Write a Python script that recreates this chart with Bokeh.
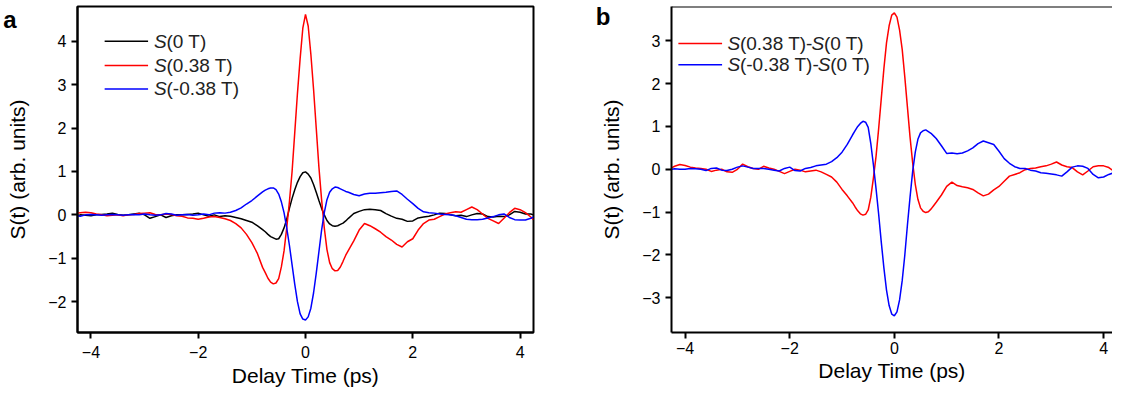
from bokeh.plotting import figure
from bokeh.layouts import row
from bokeh.models import Range1d, Label, Arrow, Span, FixedTicker, LinearAxis
from bokeh.embed import file_html
from bokeh.resources import INLINE

# ---------------- data ----------------
t = [-4.25, -4.2, -4.1, -4.0, -3.9, -3.8, -3.7, -3.6, -3.5, -3.4, -3.3, -3.2, -3.1, -3.0,
     -2.9, -2.8, -2.7, -2.6, -2.5, -2.4, -2.3, -2.2, -2.1, -2.0, -1.9, -1.8, -1.7, -1.6,
     -1.5, -1.4, -1.3, -1.2, -1.1, -1.0, -0.9, -0.8,
     -0.75, -0.7, -0.65, -0.6, -0.55, -0.5, -0.45, -0.4, -0.35, -0.3, -0.25, -0.2, -0.15, -0.1, -0.05,
     0.0, 0.05, 0.1, 0.15, 0.2, 0.25, 0.3, 0.35, 0.4, 0.45, 0.5, 0.55, 0.6, 0.65, 0.7, 0.75,
     0.8, 0.9, 1.0, 1.1, 1.2, 1.3, 1.4, 1.5, 1.6, 1.7, 1.8, 1.9, 2.0, 2.1, 2.2, 2.3, 2.4,
     2.5, 2.6, 2.7, 2.8, 2.9, 3.0, 3.1, 3.2, 3.3, 3.4, 3.5, 3.6, 3.7, 3.8, 3.9, 4.0, 4.1, 4.2, 4.25]

# panel a: S(0 T)
s_0T = [-0.02,
        0.00, -0.01, -0.02, 0.00, 0.01, 0.02, 0.04, 0.01, -0.01, 0.00, 0.02, 0.04, 0.00, -0.08,
        -0.04, 0.00, -0.06, -0.02, 0.00, 0.00, 0.01, 0.02, 0.04, 0.00, -0.03, 0.00, -0.04, -0.02,
        -0.03, -0.06, -0.09, -0.13, -0.17, -0.25, -0.34,
        -0.39, -0.45, -0.50, -0.53, -0.56, -0.55, -0.45, -0.30, -0.10, 0.15, 0.38, 0.58, 0.75, 0.88, 0.97,
        0.99, 0.94, 0.85, 0.70, 0.52, 0.33, 0.15, 0.00, -0.13, -0.21, -0.25, -0.26, -0.25, -0.22, -0.19, -0.14,
        -0.08, 0.03, 0.08, 0.12, 0.13, 0.12, 0.10, 0.03, -0.03, -0.08, -0.10, -0.15, -0.14, -0.07, -0.05,
        -0.03, 0.00, 0.04, 0.03, 0.00, -0.02, -0.01, -0.04, 0.00, 0.03, 0.02, -0.04, -0.05, -0.03, -0.04,
        0.00, 0.08, 0.06, 0.02, 0.02, 0.00]

# panel a: S(0.38 T)
s_p038 = [0.04,
          0.05, 0.06, 0.05, 0.02, 0.00, -0.02, -0.01, 0.00, -0.02, 0.00, 0.01, 0.03, 0.04, 0.05,
          0.01, 0.00, 0.02, 0.01, -0.02, -0.03, -0.07, -0.08, -0.10, -0.08, -0.05, -0.04, -0.06, -0.09,
          -0.13, -0.20, -0.30, -0.45, -0.64, -0.88, -1.21,
          -1.33, -1.46, -1.55, -1.59, -1.57, -1.47, -1.20, -0.83, -0.30, 0.30, 1.00, 1.90, 2.80, 3.60, 4.30,
          4.62, 4.35, 3.70, 2.90, 2.00, 1.10, 0.35, -0.30, -0.80, -1.10, -1.24, -1.29, -1.28, -1.20, -1.07, -0.93,
          -0.82, -0.60, -0.35, -0.20, -0.25, -0.32, -0.40, -0.50, -0.58, -0.68, -0.74, -0.62, -0.55, -0.35, -0.20,
          -0.12, -0.10, -0.04, 0.02, 0.05, 0.07, 0.06, 0.12, 0.18, 0.12, 0.02, -0.08, -0.14, -0.20, -0.08,
          0.05, 0.15, 0.12, 0.05, -0.05, -0.11]

# panel a: S(-0.38 T)
s_m038 = [-0.02,
          -0.03, 0.00, 0.01, 0.00, -0.01, 0.00, 0.01, 0.00, -0.01, 0.00, 0.01, 0.00, 0.02, 0.00,
          -0.01, 0.00, 0.03, 0.02, -0.01, 0.00, 0.01, -0.01, 0.00, 0.02, 0.00, 0.04, 0.05, 0.04,
          0.06, 0.10, 0.16, 0.25, 0.33, 0.43, 0.53,
          0.57, 0.60, 0.62, 0.62, 0.58, 0.48, 0.30, 0.05, -0.30, -0.70, -1.15, -1.60, -2.00, -2.28, -2.40,
          -2.42, -2.35, -2.15, -1.80, -1.35, -0.85, -0.35, 0.05, 0.35, 0.52, 0.60, 0.64, 0.63, 0.60, 0.57, 0.54,
          0.52, 0.47, 0.44, 0.48, 0.50, 0.50, 0.51, 0.52, 0.54, 0.55, 0.47, 0.36, 0.26, 0.15, 0.07,
          0.05, 0.04, 0.02, 0.01, 0.00, -0.02, -0.06, -0.10, -0.11, -0.11, -0.10, -0.07, -0.04, 0.00, 0.02,
          -0.06, -0.11, -0.12, -0.12, -0.08, -0.05]

# panel b: S(0.38 T)-S(0 T)
d_p038 = [0.04,
          0.07, 0.11, 0.09, 0.05, 0.03, 0.02, 0.00, -0.05, -0.02, 0.00, -0.06, -0.07, 0.00, 0.12,
          0.06, 0.02, 0.00, 0.07, 0.03, 0.00, -0.05, -0.10, -0.05, 0.00, -0.02, -0.06, -0.04, -0.02,
          -0.06, -0.12, -0.18, -0.30, -0.47, -0.62, -0.78,
          -0.88, -0.97, -1.04, -1.07, -1.05, -0.95, -0.65, -0.20, 0.30, 0.95, 1.65, 2.35, 2.95, 3.35, 3.60,
          3.65, 3.55, 3.25, 2.80, 2.15, 1.45, 0.75, 0.15, -0.35, -0.70, -0.90, -0.98, -1.01, -0.99, -0.93, -0.85,
          -0.77, -0.60, -0.40, -0.30, -0.38, -0.41, -0.43, -0.47, -0.55, -0.62, -0.58, -0.48, -0.40, -0.28, -0.16,
          -0.12, -0.08, -0.01, 0.02, 0.03, 0.06, 0.08, 0.12, 0.17, 0.10, 0.06, 0.04, -0.06, -0.13, -0.04,
          0.06, 0.08, 0.08, 0.04, -0.05, -0.08]

# panel b: S(-0.38 T)-S(0 T)
d_m038 = [0.00,
          0.01, 0.00, 0.00, 0.02, 0.01, 0.00, -0.03, 0.02, 0.03, -0.02, -0.03, 0.00, 0.05, 0.08,
          0.05, 0.02, 0.02, 0.02, 0.00, -0.02, -0.04, 0.02, 0.05, -0.03, -0.04, 0.02, 0.04, 0.08,
          0.10, 0.12, 0.18, 0.27, 0.40, 0.58, 0.80,
          0.90, 1.00, 1.07, 1.12, 1.10, 0.98, 0.60, 0.10, -0.45, -1.05, -1.70, -2.30, -2.82, -3.18, -3.38,
          -3.42, -3.33, -3.05, -2.60, -2.00, -1.30, -0.65, -0.05, 0.40, 0.70, 0.85, 0.90, 0.92, 0.88, 0.84, 0.78,
          0.72, 0.55, 0.37, 0.38, 0.36, 0.38, 0.43, 0.50, 0.60, 0.66, 0.62, 0.58, 0.42, 0.25, 0.14,
          0.06, 0.02, 0.02, -0.02, -0.04, -0.08, -0.09, -0.11, -0.13, -0.16, -0.06, 0.05, 0.08, 0.07, 0.02,
          -0.12, -0.20, -0.18, -0.12, -0.08, -0.06]

x_ticks = [-4, -2, 0, 2, 4]
y_ticks_a = [-2, -1, 0, 1, 2, 3, 4]
y_ticks_b = [-3, -2, -1, 0, 1, 2, 3]

x_label = "Delay Time (ps)"
y_label = "S(t) (arb. units)"

# ---------------- styling / layout ----------------
FONT = "Liberation Sans"
RED = "#ff0000"
BLUE = "#0000ff"
BLACK = "#000000"
LEG_SIZE = 19
H = 393  # 8px page margin top and bottom -> 409 window
# Arial advance widths (em) to place mixed-style legend runs
EM = {"S": 0.667, "(": 0.333, ")": 0.333, "0": 0.556, "3": 0.556, "8": 0.556, ".": 0.278,
      " ": 0.278, "T": 0.611, "-": 0.333}


def text_w(s, size):
    return sum(EM.get(c, 0.556) for c in s) * size


def make_panel(width, height, mb, xr, yr, yticks, outline, xstand, xlstand):
    p = figure(width=width, height=height, x_range=Range1d(*xr), y_range=Range1d(*yr),
               output_backend="svg", toolbar_location=None, tools="",
               min_border_left=mb[0], min_border_right=mb[1],
               min_border_top=mb[2], min_border_bottom=mb[3])
    p.grid.visible = False
    p.background_fill_color = "white"
    p.border_fill_color = "white"
    if outline:
        p.outline_line_color = BLACK
        p.outline_line_width = 2
        p.outline_line_alpha = 1
    else:
        p.outline_line_color = None
    for ax in (p.xaxis[0], p.yaxis[0]):
        ax.axis_line_color = BLACK
        ax.axis_line_width = 2
        ax.major_tick_line_color = BLACK
        ax.major_tick_line_width = 2
        ax.major_tick_out = 6
        ax.major_tick_in = 0
        ax.minor_tick_line_color = None
        ax.major_label_text_font = FONT
        ax.major_label_text_font_size = "16px"
        ax.major_label_text_color = BLACK
        ax.axis_label_text_font = FONT
        ax.axis_label_text_font_size = "21px"
        ax.axis_label_text_font_style = "normal"
        ax.axis_label_text_color = BLACK
    p.xaxis[0].ticker = FixedTicker(ticks=x_ticks)
    p.yaxis[0].ticker = FixedTicker(ticks=yticks)
    p.xaxis[0].axis_label = x_label
    p.yaxis[0].axis_label = y_label
    p.xaxis[0].major_label_standoff = xstand
    p.xaxis[0].axis_label_standoff = xlstand
    p.yaxis[0].major_label_standoff = 5
    p.yaxis[0].axis_label_standoff = 16
    return p


class Mapper:
    """page pixel -> data coordinate for annotation placement"""
    def __init__(self, left, top, fw, fh, xr, yr):
        self.left, self.top, self.fw, self.fh, self.xr, self.yr = left, top, fw, fh, xr, yr

    def x(self, px):
        return self.xr[0] + (px - self.left) / self.fw * (self.xr[1] - self.xr[0])

    def y(self, py):
        return self.yr[1] - (py - self.top) / self.fh * (self.yr[1] - self.yr[0])


def panel_letter(p, m, letter, py):
    # bold panel letter drawn as the single label of an outer, line-less left axis
    pos = round(m.y(py), 3)
    ax = LinearAxis(ticker=FixedTicker(ticks=[pos]), major_label_overrides={pos: letter},
                    axis_line_color=None, major_tick_line_color=None, minor_tick_line_color=None,
                    major_tick_out=0, major_tick_in=0, major_label_standoff=-13,
                    major_label_text_font=FONT, major_label_text_font_size="24px",
                    major_label_text_font_style="bold", major_label_text_color=BLACK)
    p.add_layout(ax, "left")


def legend_row(p, m, x0, x1, xt, yrow, color, runs):
    p.add_layout(Arrow(end=None, x_start=m.x(x0), y_start=m.y(yrow), x_end=m.x(x1), y_end=m.y(yrow),
                       line_color=color, line_width=1.5))
    x = xt
    for txt, style in runs:
        p.add_layout(Label(x=m.x(x), y=m.y(yrow), text=txt, text_font=FONT,
                           text_font_size=f"{LEG_SIZE}px", text_font_style=style,
                           text_color="#222222", text_align="left", text_baseline="middle"))
        x += text_w(txt, LEG_SIZE)


# ---- panel a ----  (page x 8..600)
xr_a = (-4.25, 4.25)
yr_a = (-2.71, 4.80)
pa = make_panel(592, H, (71, 59, 1, H - 1 - 331), xr_a, yr_a, y_ticks_a, True, 7, 3)
ma = Mapper(79, 9, 462, 331, xr_a, yr_a)
pa.line(t, s_0T, line_color=BLACK, line_width=1.5)
pa.line(t, s_p038, line_color=RED, line_width=1.5)
pa.line(t, s_m038, line_color=BLUE, line_width=1.5)
legend_row(pa, ma, 106.5, 150.5, 156.5, 44.3, BLACK, [("S", "italic"), ("(0 T)", "normal")])
legend_row(pa, ma, 106.5, 150.5, 156.5, 68.8, RED, [("S", "italic"), ("(0.38 T)", "normal")])
legend_row(pa, ma, 106.5, 150.5, 156.5, 92.7, BLUE, [("S", "italic"), ("(-0.38 T)", "normal")])
panel_letter(pa, ma, "a", 22.0)

# ---- panel b ----  (page x 600..1120)
xr_b = (-4.26, 4.17)
yr_b = (-3.81, 3.80)
pb = make_panel(520, H, (71, 0, 6, H - 6 - 332), xr_b, yr_b, y_ticks_b, False, 3, 2)
mb_ = Mapper(671, 14, 449, 332, xr_b, yr_b)
pb.add_layout(Span(location=yr_b[1], dimension="width", line_color=BLACK, line_width=2))
pb.line(t, d_p038, line_color=RED, line_width=1.5)
pb.line(t, d_m038, line_color=BLUE, line_width=1.5)
legend_row(pb, mb_, 678, 722.5, 728, 51.7, RED,
           [("S", "italic"), ("(0.38 T)-", "normal"), ("S", "italic"), ("(0 T)", "normal")])
legend_row(pb, mb_, 678, 722.5, 728, 73.3, BLUE,
           [("S", "italic"), ("(-0.38 T)-", "normal"), ("S", "italic"), ("(0 T)", "normal")])
panel_letter(pb, mb_, "b", 24.5)

layout = row(pa, pb)
open("out.html", "w").write(file_html(layout, INLINE))
